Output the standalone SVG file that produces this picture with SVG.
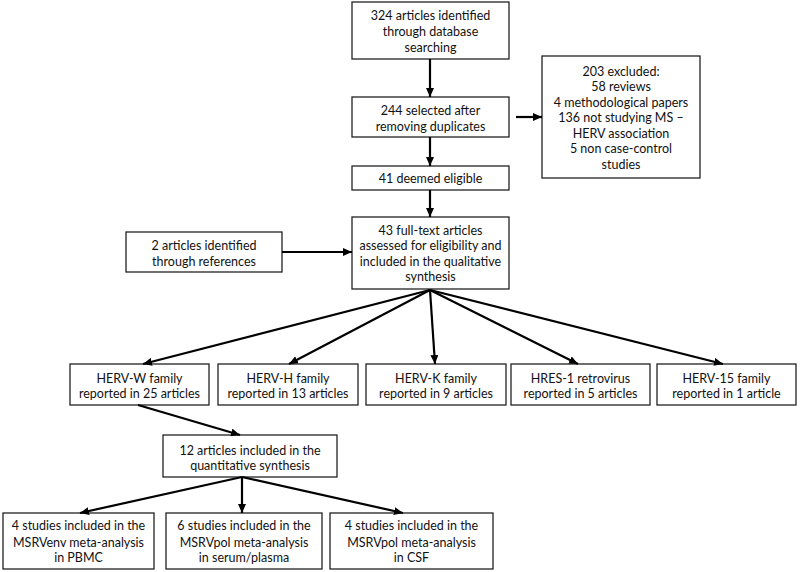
<svg xmlns="http://www.w3.org/2000/svg" width="800" height="572" viewBox="0 0 800 572">
<defs>
<marker id="ah" markerUnits="userSpaceOnUse" markerWidth="9" markerHeight="8" refX="9" refY="4" orient="auto">
<path d="M0,0 L9,4 L0,8 z" fill="#000"/>
</marker>
<style>
rect{fill:#fff;stroke:#222;stroke-width:1.3}
text{font-family:Lato,"Open Sans","Liberation Sans",sans-serif;font-size:12.5px;fill:#111;text-anchor:middle}
#connectors line{stroke:#000;stroke-width:2.2;marker-end:url(#ah)}
</style>
</defs>
<rect x="0" y="0" width="800" height="572" style="fill:#fff;stroke:none"/>
<g id="n1"><rect x="352" y="2" width="157" height="57"/>
<text x="430.5" y="20">324 articles identified</text><text x="430.5" y="36">through database</text><text x="430.5" y="52">searching</text></g>
<g id="n2"><rect x="352" y="97" width="157" height="40"/>
<text x="430.5" y="114.5">244 selected after</text><text x="430.5" y="130.5">removing duplicates</text></g>
<g id="n3"><rect x="542" y="56" width="158" height="122"/>
<text x="621" y="76">203 excluded:</text><text x="621" y="91.2">58 reviews</text><text x="621" y="106.6">4 methodological papers</text><text x="621" y="122">136 not studying MS –</text><text x="621" y="137.6">HERV association</text><text x="621" y="153.2">5 non case-control</text><text x="621" y="168.5">studies</text></g>
<g id="n4"><rect x="352" y="166" width="157" height="24"/>
<text x="430.5" y="182.5">41 deemed eligible</text></g>
<g id="n5"><rect x="352" y="217" width="157" height="72"/>
<text x="430.5" y="234.5">43 full-text articles</text><text x="430.5" y="250">assessed for eligibility and</text><text x="430.5" y="265.5">included in the qualitative</text><text x="430.5" y="281">synthesis</text></g>
<g id="n6"><rect x="126" y="232" width="156" height="40"/>
<text x="204" y="249.5">2 articles identified</text><text x="204" y="266">through references</text></g>
<g id="n7"><rect x="70" y="364" width="139" height="41"/>
<text x="139.5" y="382.5">HERV-W family</text><text x="139.5" y="397.5">reported in 25 articles</text></g>
<g id="n8"><rect x="218" y="364" width="140" height="41"/>
<text x="288" y="382.5">HERV-H family</text><text x="288" y="397.5">reported in 13 articles</text></g>
<g id="n9"><rect x="366" y="364" width="140" height="41"/>
<text x="436" y="382.5">HERV-K family</text><text x="436" y="397.5">reported in 9 articles</text></g>
<g id="n10"><rect x="511" y="364" width="139" height="41"/>
<text x="580.5" y="382.5">HRES-1 retrovirus</text><text x="580.5" y="397.5">reported in 5 articles</text></g>
<g id="n11"><rect x="657" y="364" width="139" height="41"/>
<text x="726.5" y="382.5">HERV-15 family</text><text x="726.5" y="397.5">reported in 1 article</text></g>
<g id="n12"><rect x="163" y="435" width="174" height="42"/>
<text x="250" y="455">12 articles included in the</text><text x="250" y="470">quantitative synthesis</text></g>
<g id="n13"><rect x="3" y="513" width="151" height="56"/>
<text x="78.5" y="529.5">4 studies included in the</text><text x="78.5" y="546.5">MSRVenv meta-analysis</text><text x="78.5" y="561.5">in PBMC</text></g>
<g id="n14"><rect x="166" y="513" width="156" height="56"/>
<text x="244" y="529.5">6 studies included in the</text><text x="244" y="546.5">MSRVpol meta-analysis</text><text x="244" y="561.5">in serum/plasma</text></g>
<g id="n15"><rect x="330" y="513" width="163" height="56"/>
<text x="411.5" y="529.5">4 studies included in the</text><text x="411.5" y="546.5">MSRVpol meta-analysis</text><text x="411.5" y="561.5">in CSF</text></g>
<g id="connectors">
<line x1="430" y1="59" x2="430" y2="97"/>
<line x1="430" y1="137" x2="430" y2="166"/>
<line x1="430" y1="190" x2="430" y2="217"/>
<line x1="516" y1="117" x2="542" y2="117"/>
<line x1="282" y1="252" x2="352" y2="252"/>
<line x1="430" y1="290" x2="143" y2="364"/>
<line x1="430" y1="290" x2="289" y2="364"/>
<line x1="430" y1="290" x2="435" y2="364"/>
<line x1="430" y1="290" x2="578" y2="364"/>
<line x1="430" y1="290" x2="723" y2="364"/>
<line x1="138" y1="405" x2="240" y2="435"/>
<line x1="242" y1="477" x2="80" y2="513"/>
<line x1="242" y1="477" x2="242" y2="513"/>
<line x1="242" y1="477" x2="403" y2="513"/>
</g>
</svg>
